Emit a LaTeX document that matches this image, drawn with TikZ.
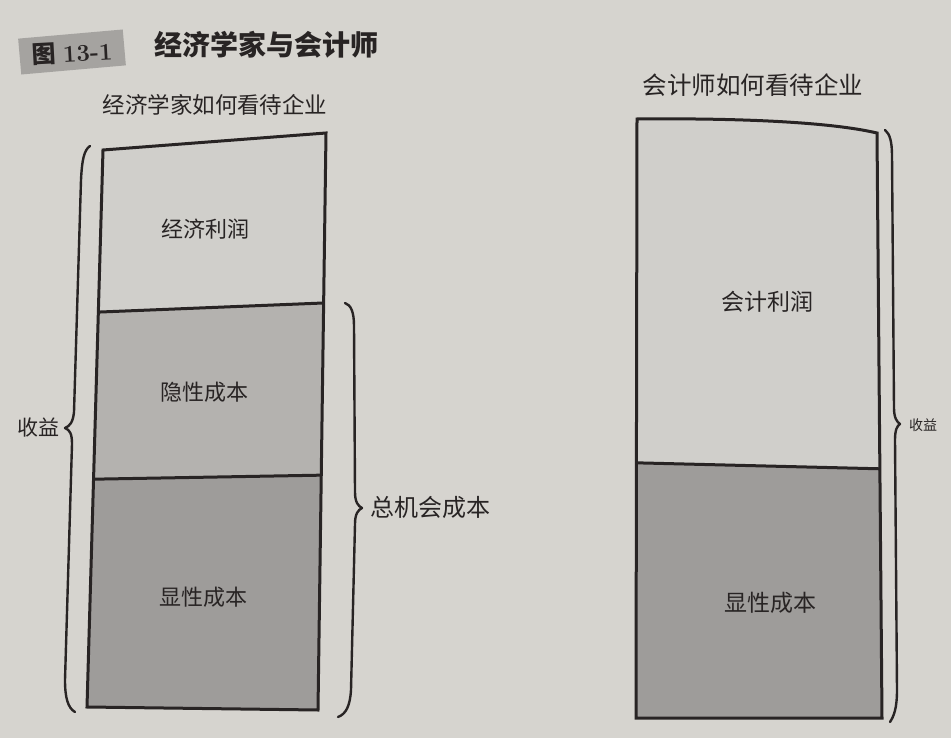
\documentclass[tikz,border=0pt]{standalone}
\usepackage{fontspec}
\newfontfamily\cjk{Noto Sans CJK SC}
\usetikzlibrary{calc}
\definecolor{paper}{RGB}{214,212,207}
\definecolor{lightbar}{RGB}{208,207,203}
\definecolor{midbar}{RGB}{180,178,175}
\definecolor{darkbar}{RGB}{158,156,154}
\definecolor{tagbox}{RGB}{165,163,160}
\definecolor{ink}{RGB}{40,36,36}
\tikzset{
  barline/.style={draw=ink, line width=3pt, line join=miter},
  bracestyle/.style={draw=ink, line width=2.4pt, line cap=round, line join=round},
  lbl/.style={font=\cjk, text=ink, inner sep=0pt, anchor=center}
}
\begin{document}
\begin{tikzpicture}[x=1pt,y=-1pt]
\fill[paper] (0,0) rectangle (951,738);
\useasboundingbox (0,0) rectangle (951,738);

% figure tag
\node[fill=tagbox, minimum width=105pt, minimum height=36pt, inner sep=0pt, rotate=5] (tag) at (72,52) {};
\node[text=ink, inner sep=0pt, rotate=3] (tagtext) at (72,53) {\fontsize{24}{26}\selectfont{\cjk\bfseries 图} \bfseries 13-1};
\node[lbl, anchor=west, font=\cjk\fontsize{28}{30}\selectfont\bfseries] (title) at (154,45) {经济学家与会计师};

\node[lbl, font=\cjk\fontsize{22.5}{24}\selectfont] (lhead) at (215,105) {经济学家如何看待企业};
\node[lbl, font=\cjk\fontsize{24.5}{26}\selectfont] (rhead) at (753,85) {会计师如何看待企业};

% left bar
\coordinate (LTL) at (103,150);
\coordinate (LTR) at (326,133);
\coordinate (LBR) at (318,710);
\coordinate (LBL) at (87,707);
\coordinate (LD1L) at ($(LTL)!0.291!(LBL)$);
\coordinate (LD1R) at ($(LTR)!0.2946!(LBR)$);
\coordinate (LD2L) at ($(LTL)!0.591!(LBL)$);
\coordinate (LD2R) at ($(LTR)!0.593!(LBR)$);
\fill[lightbar] (LTL) -- (LTR) -- (LD1R) -- (LD1L) -- cycle;
\fill[midbar] (LD1L) -- (LD1R) -- (LD2R) -- (LD2L) -- cycle;
\fill[darkbar] (LD2L) -- (LD2R) -- (LBR) -- (LBL) -- cycle;
\draw[barline] (LTL) -- (LTR) -- (LBR) -- (LBL) -- cycle;
\draw[barline] (LD1L) -- (LD1R);
\draw[barline] (LD2L) -- (LD2R);

% right bar
\coordinate (RTL) at (637,119);
\coordinate (RTR) at (877,133);
\coordinate (RBR) at (882,718);
\coordinate (RBL) at (636,718);
\coordinate (RD1L) at ($(RTL)!0.574!(RBL)$);
\coordinate (RD1R) at ($(RTR)!0.574!(RBR)$);
\fill[lightbar] (RTL) .. controls (740,118) and (830,122) .. (RTR) -- (RD1R) -- (RD1L) -- cycle;
\fill[darkbar] (RD1L) -- (RD1R) -- (RBR) -- (RBL) -- cycle;
\draw[barline] (RTL) .. controls (740,118) and (830,122) .. (RTR) -- (RBR) -- (RBL) -- cycle;
\draw[barline] (RD1L) -- (RD1R);

% bar labels
\node[lbl, font=\cjk\fontsize{22}{24}\selectfont] (ep) at (205,229) {经济利润};
\node[lbl, font=\cjk\fontsize{22}{24}\selectfont] (ic) at (204,392) {隐性成本};
\node[lbl, font=\cjk\fontsize{22}{24}\selectfont] (ec) at (203,597) {显性成本};
\node[lbl, font=\cjk\fontsize{23}{25}\selectfont] (ap) at (767,302) {会计利润};
\node[lbl, font=\cjk\fontsize{23}{25}\selectfont] (ec2) at (770,603) {显性成本};

% left brace (revenue)
\coordinate (lbt) at (90,146);
\coordinate (lbtip) at (65,428);
\coordinate (lbb) at (75,712);
\draw[bracestyle] (lbt) .. controls (84,150) and (82,160) .. (81,180)
  -- (74,412) .. controls (73,422) and (70,426) .. (lbtip)
  .. controls (70,430) and (72,434) .. (72,444)
  -- (65,680) .. controls (65,698) and (68,708) .. (lbb);
\node[lbl, font=\cjk\fontsize{21}{23}\selectfont] (rev1) at (38,428) {收益};

% middle brace (total opportunity cost)
\coordinate (mbt) at (345,303);
\coordinate (mbtip) at (362,508);
\coordinate (mbb) at (338,717);
\draw[bracestyle] (mbt) .. controls (351,305) and (354,312) .. (354,326)
  -- (355,492) .. controls (355,502) and (358,506) .. (mbtip)
  .. controls (358,510) and (355,514) .. (355,524)
  -- (351,690) .. controls (350,706) and (346,714) .. (mbb);
\node[lbl, anchor=west, font=\cjk\fontsize{24}{26}\selectfont] (toc) at (370,507) {总机会成本};

% right brace (revenue)
\coordinate (rbt) at (885,130);
\coordinate (rbtip) at (900,424);
\coordinate (rbb) at (890,722);
\draw[bracestyle] (rbt) .. controls (890,134) and (892,142) .. (892,156)
  -- (894,408) .. controls (894,418) and (897,422) .. (rbtip)
  .. controls (897,426) and (895,430) .. (895,440)
  -- (897,690) .. controls (897,708) and (894,716) .. (rbb);
\node[lbl, font=\cjk\fontsize{14}{16}\selectfont] (rev2) at (923,425) {收益};
\end{tikzpicture}
\end{document}
